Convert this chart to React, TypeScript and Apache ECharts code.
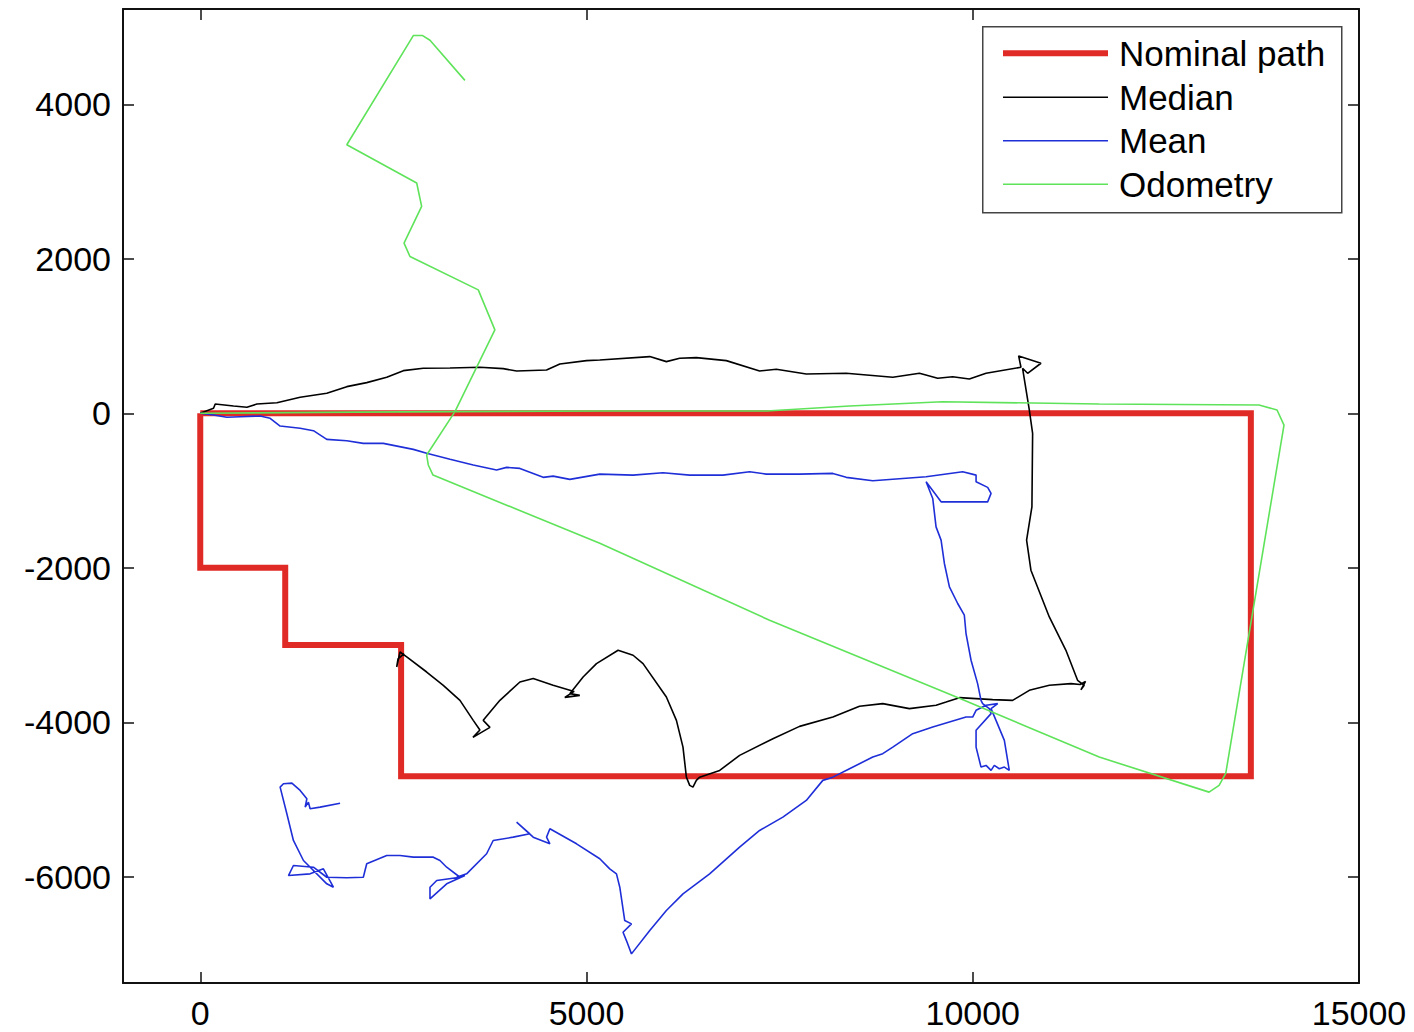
import React, { useEffect, useRef } from "react";
import * as echarts from "echarts";

const xTicks = [0, 5000, 10000, 15000];
const yTicks = [-6000, -4000, -2000, 0, 2000, 4000];
const legendNames = ["Nominal path", "Median", "Mean", "Odometry"];

const nominalPath: number[][] = [
  [0, 0], [0, -2000], [1100, -2000], [1100, -3000], [2600, -3000], [2600, -4700],
  [13600, -4700], [13600, 0], [0, 0],
];

const medianPath: number[][] = [
  [0, 0], [172, 65], [194, 120], [431, 95], [604, 78], [733, 120], [992, 137], [1293, 207],
  [1638, 259], [1897, 345], [2155, 397], [2414, 467], [2629, 552], [2887, 583], [3233, 587],
  [3620, 596], [3922, 578], [4095, 548], [4483, 561], [4655, 639], [5000, 682], [5172, 691],
  [5819, 734], [6034, 669], [6206, 713], [6422, 721], [6810, 682], [7241, 548], [7457, 570],
  [7845, 509], [8362, 518], [8965, 467], [9310, 518], [9546, 454], [9740, 474], [9956, 445],
  [10172, 518], [10624, 596], [10594, 743], [10883, 648], [10710, 518], [10645, 583],
  [10732, 43], [10775, -259], [10766, -1210], [10697, -1642], [10753, -2031], [10991, -2636],
  [11206, -3068], [11357, -3456], [11443, -3521], [11400, -3580], [11460, -3470], [11390, -3510],
  [11271, -3499], [10991, -3521], [10732, -3586], [10516, -3716], [10257, -3707], [9827, -3681],
  [9655, -3738], [9526, -3780], [9180, -3823], [8835, -3758], [8534, -3793], [8189, -3932],
  [7758, -4053], [7413, -4212], [6982, -4428], [6724, -4623], [6465, -4710], [6422, -4752],
  [6378, -4839], [6336, -4817], [6293, -4710], [6249, -4321], [6164, -3975], [6034, -3673],
  [5732, -3240], [5603, -3132], [5409, -3068], [5129, -3240], [4956, -3414], [4784, -3629],
  [4913, -3651], [4719, -3677], [4840, -3600], [4568, -3521], [4310, -3434], [4138, -3478],
  [3879, -3716], [3663, -3975], [3750, -4066], [3530, -4195], [3620, -4100], [3534, -3975],
  [3362, -3716], [3146, -3521], [2931, -3349], [2673, -3154], [2586, -3090], [2543, -3284],
  [2560, -3180], [2640, -3110],
];

const meanPath: number[][] = [
  [0, 0], [172, -22], [345, -52], [517, -44], [776, -35], [905, -65], [1034, -165], [1293, -194],
  [1465, -225], [1638, -337], [1897, -355], [2111, -389], [2370, -389], [2758, -467], [2931, -518],
  [3233, -596], [3534, -670], [3836, -735], [3966, -700], [4138, -713], [4439, -829], [4568, -813],
  [4784, -855], [5172, -787], [5603, -800], [5990, -770], [6336, -800], [6766, -800], [7112, -757],
  [7327, -787], [7758, -787], [8189, -778], [8362, -829], [8706, -873], [9051, -848], [9396, -822],
  [9870, -757], [10043, -800], [10043, -886], [10193, -959], [10237, -1037], [10193, -1146],
  [9590, -1146], [9396, -886], [9482, -1102], [9525, -1470], [9590, -1642], [9633, -1944],
  [9698, -2247], [9805, -2462], [9891, -2614], [9913, -2851], [9978, -3197], [10063, -3499],
  [10107, -3716], [10128, -3758], [10214, -3823], [10237, -3888], [10043, -4104], [10043, -4321],
  [10107, -4580], [10172, -4558], [10237, -4623], [10279, -4558], [10344, -4601], [10409, -4580],
  [10473, -4623], [10409, -4234], [10301, -3975], [10237, -3823], [10323, -3758], [10172, -3780],
  [10043, -3845], [9999, -3932], [9913, -3932], [9482, -4062], [9223, -4147], [8965, -4321],
  [8835, -4406], [8706, -4450], [8405, -4601], [8189, -4710], [8059, -4752], [7845, -5012],
  [7542, -5228], [7241, -5400], [6982, -5617], [6594, -5962], [6249, -6221], [6034, -6437],
  [5819, -6696], [5582, -6998], [5517, -6826], [5473, -6718], [5582, -6610], [5495, -6567],
  [5431, -6135], [5388, -5962], [5301, -5897], [5172, -5767], [4871, -5573], [4526, -5378],
  [4483, -5487], [4526, -5573], [4310, -5487], [4095, -5293], [4267, -5443], [4051, -5487],
  [3792, -5530], [3707, -5702], [3448, -5962], [3319, -6006], [3426, -5984], [3190, -6091],
  [2974, -6286], [2974, -6135], [3061, -6048], [3362, -6006], [3190, -5876], [3103, -5789],
  [3017, -5746], [2758, -5746], [2586, -5724], [2414, -5724], [2155, -5832], [2111, -6006],
  [1897, -6013], [1638, -6006], [1465, -5876], [1206, -5854], [1142, -5984], [1422, -5962],
  [1594, -5897], [1724, -6135], [1638, -6091], [1336, -5789], [1206, -5530], [1121, -5184],
  [1034, -4839], [1077, -4795], [1186, -4787], [1293, -4882], [1380, -4990], [1358, -5098],
  [1400, -5034], [1422, -5119], [1552, -5098], [1810, -5047],
];

const odometryPath: number[][] = [
  [0, 0], [2000, 15], [4000, 25], [5172, 30], [7331, 30], [8405, 95], [9607, 150], [11637, 120],
  [13706, 108], [13939, 43], [14029, -152], [13275, -4662], [13189, -4817], [13059, -4904],
  [11637, -4450], [9827, -3690], [7370, -2679], [5172, -1681], [3013, -800], [2952, -669],
  [2931, -540], [3297, 21], [3814, 1080], [3599, 1598], [2715, 2030], [2638, 2203], [2866, 2678],
  [2802, 2981], [1897, 3477], [2758, 4890], [2879, 4890], [2974, 4829], [3426, 4310],
];

const FONT = "'Liberation Sans', Arial, Helvetica, sans-serif";
const COLORS = ["#e02a25", "#000000", "#1f2fd8", "#5fe35a"];
const WIDTHS = [6, 1.6, 1.6, 1.6];

export default function App() {
  const ref = useRef<HTMLDivElement>(null);
  useEffect(() => {
    if (!ref.current) return;
    const chart = echarts.init(ref.current, undefined, { renderer: "svg" });
    const axisLine = { show: true, onZero: false, lineStyle: { color: "#111", width: 2 } };
    const tick = (vals: number[]) => ({
      show: true, inside: true, length: 11, customValues: vals,
      lineStyle: { color: "#111", width: 1.5 },
    });
    const xMin = -1000, xMax = 15000, yMin = -7375, yMax = 5234;
    const fmt = (v: number) => String(v);

    const legendLeft = 982, legendTop = 26, rowY = [53.3, 97.3, 140.7, 184.3];
    const legendGraphics: any[] = [
      {
        type: "rect", left: legendLeft, top: legendTop, z: 100,
        shape: { width: 359, height: 186 },
        style: { fill: "#fff", stroke: "#444", lineWidth: 1.5 },
      },
    ];
    legendNames.forEach((name, i) => {
      legendGraphics.push({
        type: "line", z: 101,
        shape: { x1: 1003, y1: rowY[i], x2: 1108, y2: rowY[i] },
        style: { stroke: COLORS[i], lineWidth: WIDTHS[i] === 6 ? 6 : 1.6 },
      });
      legendGraphics.push({
        type: "text", z: 101, x: 1119, y: rowY[i],
        style: {
          text: name, fontSize: 35, fontFamily: FONT, fill: "#000",
          textVerticalAlign: "middle", verticalAlign: "middle", textAlign: "left",
        },
      });
    });

    chart.setOption({
      animation: false,
      backgroundColor: "#fff",
      grid: { left: 123, top: 9, right: 55, bottom: 49 },
      xAxis: [
        {
          type: "value", position: "bottom", min: xMin, max: xMax,
          axisLine, axisTick: tick(xTicks), splitLine: { show: false },
          axisLabel: { customValues: xTicks, formatter: fmt, fontSize: 34, fontFamily: FONT, color: "#000", margin: 13 },
        },
        {
          type: "value", position: "top", min: xMin, max: xMax,
          axisLine, axisTick: tick(xTicks), splitLine: { show: false },
          axisLabel: { show: false },
        },
      ],
      yAxis: [
        {
          type: "value", position: "left", min: yMin, max: yMax,
          axisLine, axisTick: tick(yTicks), splitLine: { show: false },
          axisLabel: { customValues: yTicks, formatter: fmt, fontSize: 34, fontFamily: FONT, color: "#000", margin: 12 },
        },
        {
          type: "value", position: "right", min: yMin, max: yMax,
          axisLine, axisTick: tick(yTicks), splitLine: { show: false },
          axisLabel: { show: false },
        },
      ],
      graphic: legendGraphics,
      series: [
        {
          name: legendNames[0], type: "line", data: nominalPath, symbol: "none", showSymbol: false,
          lineStyle: { color: COLORS[0], width: WIDTHS[0], join: "miter" },
        },
        {
          name: legendNames[1], type: "line", data: medianPath, symbol: "none", showSymbol: false,
          lineStyle: { color: COLORS[1], width: WIDTHS[1] },
        },
        {
          name: legendNames[2], type: "line", data: meanPath, symbol: "none", showSymbol: false,
          lineStyle: { color: COLORS[2], width: WIDTHS[2] },
        },
        {
          name: legendNames[3], type: "line", data: odometryPath, symbol: "none", showSymbol: false,
          lineStyle: { color: COLORS[3], width: WIDTHS[3] },
        },
      ],
    });
    return () => chart.dispose();
  }, []);
  return (
    <div
      ref={ref}
      style={{ position: "absolute", left: 0, top: 0, width: 1414, height: 1032, background: "#fff" }}
    />
  );
}
